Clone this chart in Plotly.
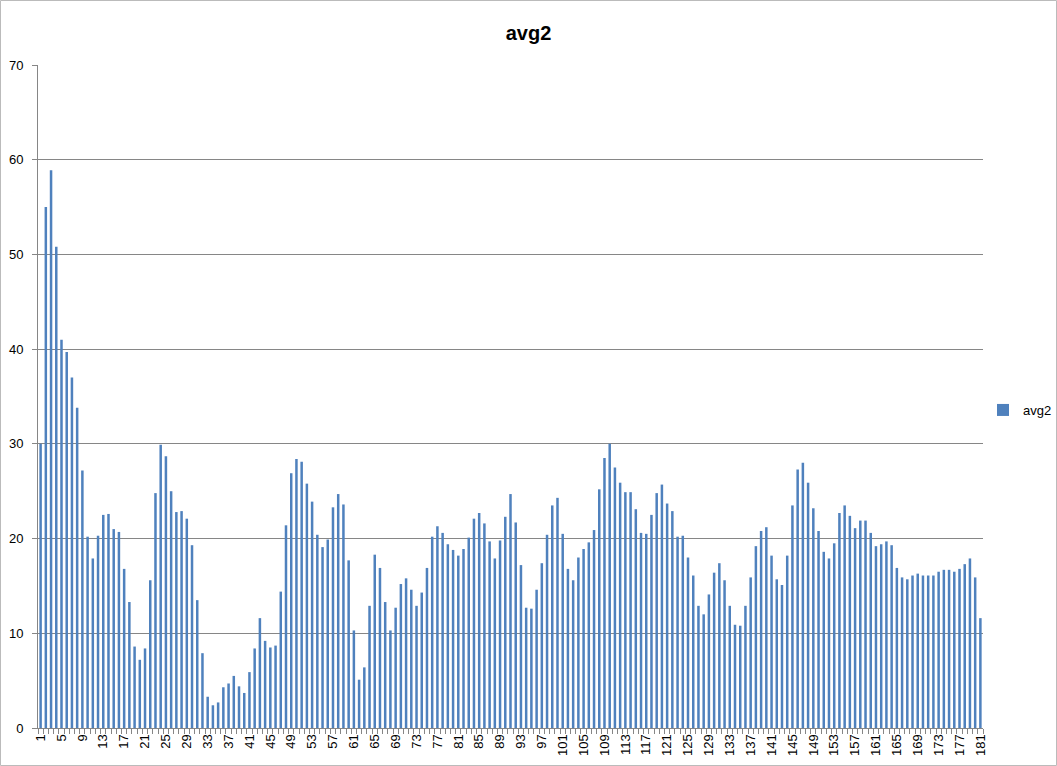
import plotly.graph_objects as go

categories = list(range(1, 182))
avg2 = [
    30.0, 55.0, 58.9, 50.8, 41.0, 39.7, 37.0, 33.8, 27.2, 20.2,
    17.9, 20.3, 22.5, 22.6, 21.0, 20.7, 16.8, 13.3, 8.6, 7.2,
    8.4, 15.6, 24.8, 29.9, 28.7, 25.0, 22.8, 22.9, 22.1, 19.3,
    13.5, 7.9, 3.3, 2.4, 2.7, 4.3, 4.7, 5.5, 4.4, 3.7,
    5.9, 8.4, 11.6, 9.2, 8.5, 8.7, 14.4, 21.4, 26.9, 28.4,
    28.1, 25.8, 23.9, 20.4, 19.1, 19.9, 23.3, 24.7, 23.6, 17.7,
    10.3, 5.1, 6.4, 12.9, 18.3, 16.9, 13.3, 10.3, 12.7, 15.2,
    15.8, 14.6, 12.9, 14.3, 16.9, 20.2, 21.3, 20.6, 19.4, 18.8,
    18.2, 18.9, 20.1, 22.1, 22.7, 21.6, 19.7, 17.9, 19.8, 22.3,
    24.7, 21.7, 17.2, 12.7, 12.6, 14.6, 17.4, 20.4, 23.5, 24.3,
    20.5, 16.8, 15.6, 18.0, 18.9, 19.6, 20.9, 25.2, 28.5, 30.0,
    27.5, 25.9, 24.9, 24.9, 23.1, 20.6, 20.5, 22.5, 24.8, 25.7,
    23.7, 22.9, 20.2, 20.3, 18.0, 16.1, 12.9, 12.0, 14.1, 16.4,
    17.4, 15.6, 12.9, 10.9, 10.8, 12.9, 15.9, 19.2, 20.8, 21.2,
    18.2, 15.7, 15.1, 18.2, 23.5, 27.3, 28.0, 25.9, 23.2, 20.8,
    18.6, 17.9, 19.5, 22.7, 23.5, 22.4, 21.1, 21.9, 21.9, 20.6,
    19.2, 19.4, 19.7, 19.3, 16.9, 15.9, 15.7, 16.1, 16.3, 16.1,
    16.1, 16.1, 16.5, 16.7, 16.7, 16.5, 16.8, 17.3, 17.9, 15.9,
    11.6,
]
tick_labels = list(range(1, 182, 4))
y_ticks = list(range(0, 71, 10))

W, H = 1057, 766
L, R, T, B = 38, 74, 65, 38
pw, ph = W - L - R, H - T - B

fig = go.Figure()
fig.add_trace(go.Bar(
    x=categories, y=avg2, name="avg2",
    marker=dict(color="#4F81BD", line=dict(width=0)),
    width=0.48, showlegend=True,
))

grid = "#868686"
fig.update_layout(
    width=W, height=H,
    margin=dict(l=L, r=R, t=T, b=B, autoexpand=False),
    paper_bgcolor="white", plot_bgcolor="white",
    font=dict(family="Liberation Sans, Arial, sans-serif", size=12, color="black"),
    title=dict(text="<b>avg2</b>", x=0.5, xref="container", xanchor="center",
               y=1 - 33 / H, yref="container", yanchor="middle",
               font=dict(size=20, color="black")),
    showlegend=True,
    legend=dict(x=(983 - L) / pw, y=(H - B - 410) / ph, xanchor="left", yanchor="middle",
                font=dict(size=13), bgcolor="rgba(0,0,0,0)", itemwidth=30),
)
fig.update_xaxes(
    range=[0.5, 181.5], tickmode="array", tickvals=tick_labels,
    ticktext=[str(t) for t in tick_labels], tickangle=-90,
    showline=True, linecolor=grid, linewidth=1,
    ticks="", showgrid=False, zeroline=False,
    tickfont=dict(size=13),
    minor=dict(tickmode="array", tickvals=[i + 0.5 for i in range(0, 182)],
               ticks="outside", ticklen=5, tickcolor=grid, tickwidth=1, showgrid=False),
)
fig.update_yaxes(
    range=[0, 70], tickmode="array", tickvals=y_ticks,
    showline=True, linecolor=grid, linewidth=1,
    ticks="outside", ticklen=5, tickcolor=grid, ticklabelstandoff=6,
    showgrid=True, gridcolor=grid, gridwidth=1, zeroline=False,
    tickfont=dict(size=13),
)
fig.add_shape(type="rect", xref="paper", yref="paper",
              x0=(-L + 0.5) / pw, x1=(W - L - 0.5) / pw,
              y0=(-B + 0.5) / ph, y1=(H - B - 0.5) / ph,
              line=dict(color="#BBBBBB", width=1), fillcolor="rgba(0,0,0,0)", layer="below")

fig.write_html("out.html", config={"displayModeBar": False},
               post_script="document.body.style.margin='0';document.body.style.overflow='hidden';")
